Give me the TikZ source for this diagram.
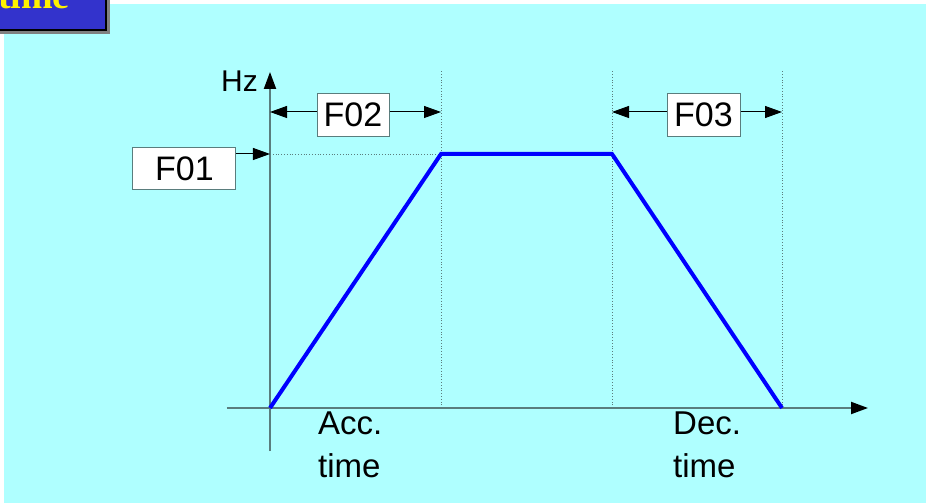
\documentclass[tikz,border=0pt]{standalone}
\usepackage{fontspec}
\setmainfont{Liberation Sans}
\newfontfamily\titlefont{Liberation Serif}
\usetikzlibrary{arrows.meta,positioning}
\definecolor{bgcyan}{RGB}{175,255,255}
\definecolor{titleblue}{RGB}{51,51,204}
\definecolor{axisgray}{RGB}{90,125,125}

\begin{document}
\begin{tikzpicture}[x=1pt,y=1pt,>={Triangle[length=17pt,width=12pt]}]
    \tikzset{
      fbox/.style={draw=axisgray, fill=white, line width=1pt, font=\fontsize{34}{40}\selectfont,
        minimum height=43pt, inner xsep=5pt},
      lbl/.style={font=\fontsize{33}{43}\selectfont, inner sep=0pt, align=left},
      axis/.style={draw=axisgray, line width=2pt, -{Triangle[length=17pt,width=12pt,black]}},
      guide/.style={draw=axisgray, line width=0.8pt, dotted},
      dim/.style={->, line width=1pt},
      ramp/.style={draw=blue, line width=4pt}
    }
    \useasboundingbox (-270,-95) rectangle (656,408);
    \clip (-270,-95) rectangle (656,408);
    \fill[white] (-270,-95) rectangle (656,408);
    \fill[bgcyan] (-266,-95) rectangle (656,404);
    \fill[gray] (-276,373.5) rectangle (-160,411);
    \filldraw[fill=titleblue, draw=black, line width=2pt] (-280,378) rectangle (-164,415);
    \node[anchor=base east, inner sep=0pt, text=yellow, font=\titlefont\bfseries\fontsize{38}{40}\selectfont]
      (title) at (-200,399.3) {time};
    \coordinate (O) at (0,0);
    \coordinate (A) at (171,254);
    \coordinate (B) at (342,254);
    \coordinate (C) at (512,0);
    \coordinate (xstart) at (-43,0);
    \coordinate (xend) at (598,0);
    \coordinate (ystart) at (0,-43);
    \coordinate (yend) at (0,336);
    \coordinate (Atop) at (171,338);
    \coordinate (Btop) at (342,338);
    \coordinate (Ctop) at (512,338);
    \coordinate (f01tip) at (0,254);
    \coordinate (f02l) at (0,296);
    \coordinate (f02r) at (171,296);
    \coordinate (f03l) at (342,296);
    \coordinate (f03r) at (512,296);
    \draw[guide] (f01tip) -- (A);
    \draw[guide] (A |- O) -- (Atop);
    \draw[guide] (B |- O) -- (Btop);
    \draw[guide] (C) -- (Ctop);
    \draw[axis] (xstart) -- (xend);
    \draw[axis] (ystart) -- (yend);
    \draw[ramp] (O) -- (A) -- (B) -- (C);
    \node[anchor=base east, inner sep=0pt, font=\fontsize{30}{34}\selectfont] (hz) at (-12,316) {Hz};
    \node[fbox, minimum width=72pt] (f02) at (83,293) {F02};
    \node[fbox, minimum width=73pt] (f03) at (433.5,293) {F03};
    \node[fbox, minimum width=103pt, minimum height=42pt] (f01) at (-85.5,239) {F01};
    \draw[dim] (f02.west |- f02l) -- (f02l);
    \draw[dim] (f02.east |- f02r) -- (f02r);
    \draw[dim] (f03.west |- f03l) -- (f03l);
    \draw[dim] (f03.east |- f03r) -- (f03r);
    \draw[dim] (f01.east |- f01tip) -- (f01tip);
    \node[lbl, anchor=north west] (acc) at (48,-4) {Acc.\\time};
    \node[lbl, anchor=north west] (dec) at (403,-4) {Dec.\\time};
\end{tikzpicture}
\end{document}
